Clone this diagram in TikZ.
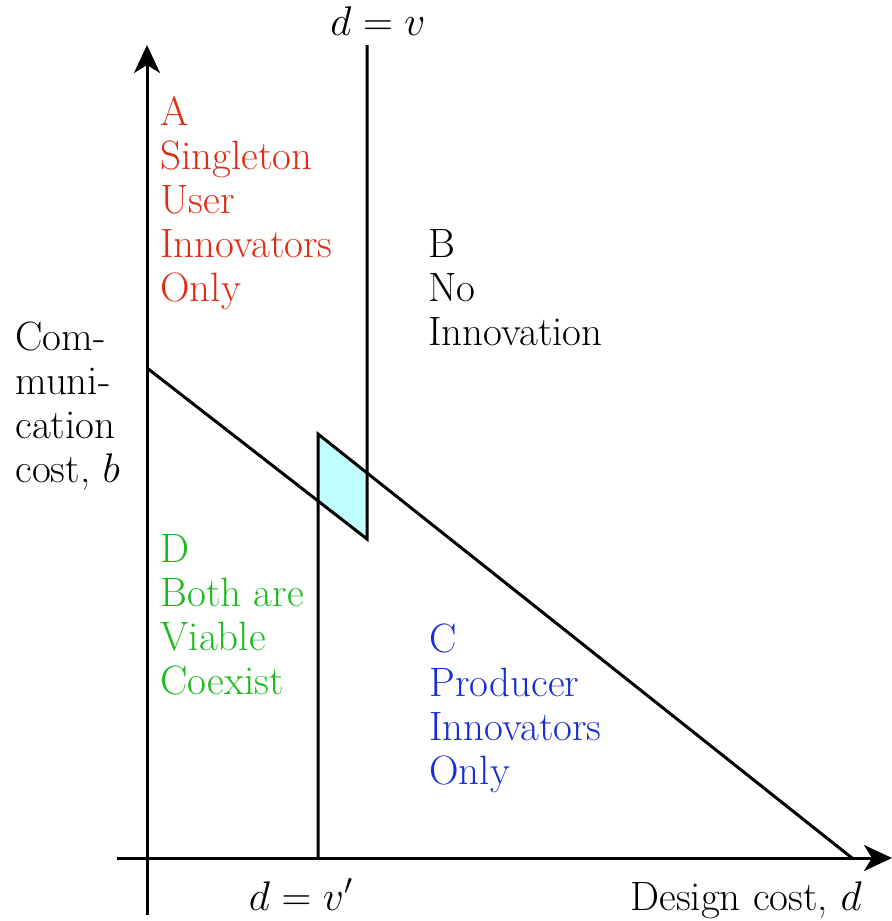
\documentclass[tikz,border=0pt]{standalone}
\usepackage{amsmath}
\usetikzlibrary{arrows.meta, positioning, calc}

\definecolor{regred}{RGB}{222,45,20}
\definecolor{reggreen}{RGB}{30,185,30}
\definecolor{regblue}{RGB}{25,45,215}
\definecolor{overlap}{RGB}{192,255,255}

\tikzset{
    axis/.style={line width=1.5pt, -{Stealth[length=14pt,width=13pt,inset=4pt]}},
    border/.style={line width=1.5pt},
    region/.style={font=\fontsize{20.5}{22}\selectfont, align=left, anchor=north west, inner sep=0pt},
    lbl/.style={font=\fontsize{20.5}{22}\selectfont, inner sep=0pt}
}

\begin{document}
\begin{tikzpicture}[x=0.5pt,y=-0.5pt]
    \useasboundingbox (0,0) rectangle (892,921);
    % Points
    \coordinate (ytop) at (147,45);
    \coordinate (ybot) at (147,915);
    \coordinate (xleft) at (117,858);
    \coordinate (xright) at (892,858);
    \coordinate (bcut) at (147,368);
    \coordinate (vtop) at (367,45);
    \coordinate (vmid) at (367,473);
    \coordinate (vbot) at (367,539);
    \coordinate (vptop) at (318,434);
    \coordinate (vpmid) at (318,501);
    \coordinate (vpbot) at (318,858);
    \coordinate (dcut) at (852,858);
    % Overlap
    \fill[overlap] (vptop) -- (vmid) -- (vbot) -- (vpmid) -- cycle;
    % Axes
    \draw[axis] (ybot) -- (ytop);
    \draw[axis] (xleft) -- (xright);
    % Boundaries
    \draw[border] (bcut) -- (vbot) -- (vtop);
    \draw[border] (vpbot) -- (vptop) -- (dcut);
    % Regions
    \node[region, text=regred] (regA) at (160,96) {A\\Singleton\\User\\Innovators\\Only};
    \node[region] (regB) at (428,229) {B\\No\\Innovation};
    \node[region, text=regblue] (regC) at (429,623) {C\\Producer\\Innovators\\Only};
    \node[region, text=reggreen] (regD) at (160,534) {D\\Both are\\Viable\\Coexist};
    % Axis labels
    \node[region] (ylab) at (15,321) {Com-\\muni-\\cation\\cost, $b$};
    \node[lbl, anchor=base east] (xlab) at (862,910) {Design cost, $d$};
    \node[lbl, anchor=base] (dv) at (378,35) {$d=v$};
    \node[lbl, anchor=base] (dvp) at (301,910) {$d=v'$};
\end{tikzpicture}
\end{document}
